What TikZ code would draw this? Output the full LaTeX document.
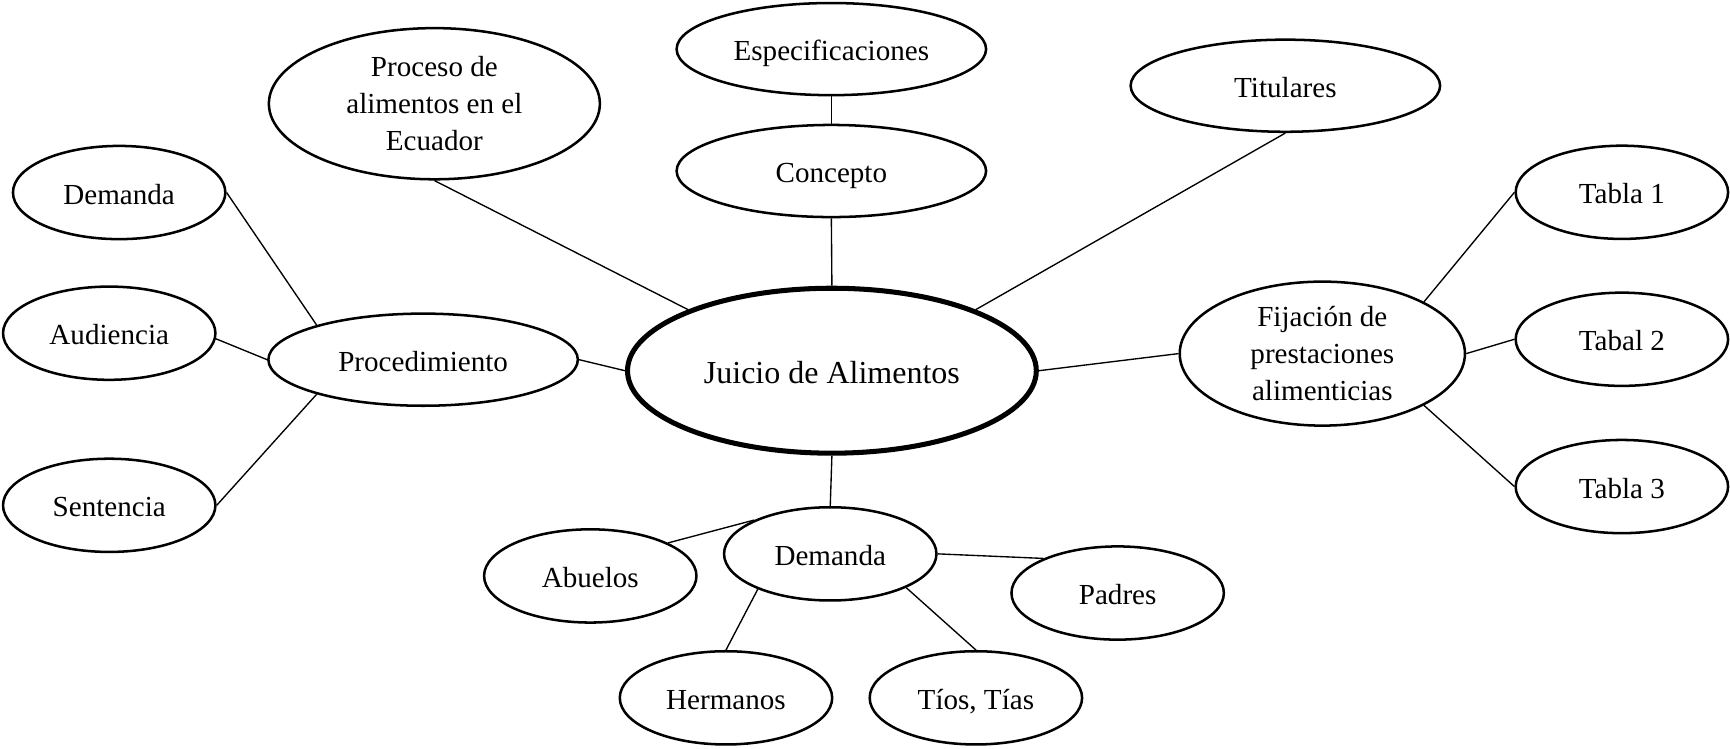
\documentclass[tikz,border=0pt]{standalone}
\usepackage{fontspec}
\setmainfont{Liberation Serif}
\usetikzlibrary{shapes.geometric}

\begin{document}
\begin{tikzpicture}[x=0.2mm,y=-0.2mm,line width=0.7pt,
  idea/.style={ellipse,draw,line width=1.3pt,inner sep=0pt,align=center,font=\fontsize{15}{19}\selectfont},
  hoja/.style={idea,text height=12pt,text depth=0pt,minimum width=38.5mm,minimum height=16.9mm},
  rama/.style={idea,text height=12pt,text depth=0pt,minimum width=56.1mm,minimum height=16.7mm},
  centro/.style={idea,line width=2.6pt,text height=13pt,text depth=0pt,minimum width=74.1mm,minimum height=29.9mm,font=\fontsize{16.5}{20}\selectfont}]

  \useasboundingbox (0,0) rectangle (1568,678);

  \node[centro] (juicio) at (754,336) {Juicio de Alimentos};
  \node[rama] (espec) at (753.5,44.5) {Especificaciones};
  \node[rama] (conc) at (753.5,155) {Concepto};
  \node[idea,minimum width=60mm,minimum height=27.4mm] (proceso) at (393.7,94) {Proceso de\\alimentos en el\\Ecuador};
  \node[rama] (titul) at (1165,77.7) {Titulares};

  \node[rama] (proc) at (383.5,326) {Procedimiento};
  \node[hoja] (dem1) at (108,174.5) {Demanda};
  \node[hoja] (aud) at (99,302) {Audiencia};
  \node[hoja] (sent) at (99,458) {Sentencia};

  \node[idea,minimum width=51.7mm,minimum height=26.1mm] (fija) at (1198.5,320.5) {Fijación de\\prestaciones\\alimenticias};
  \node[hoja] (tab1) at (1470,174.3) {Tabla 1};
  \node[hoja] (tab2) at (1470,307.5) {Tabal 2};
  \node[hoja] (tab3) at (1470,441) {Tabla 3};

  \node[hoja] (dem2) at (752.5,502) {Demanda};
  \node[hoja] (abue) at (535,522) {Abuelos};
  \node[hoja] (padr) at (1013,537.5) {Padres};
  \node[hoja] (herm) at (658,632.5) {Hermanos};
  \node[hoja] (tios) at (884.5,632.5) {Tíos, Tías};

  \path[draw]
    (espec.south) edge (conc.north)
    (conc.south) edge (juicio.north)
    (proceso.south) edge (juicio.157)
    (titul.south) edge (juicio.23)
    (proc.east) edge (juicio.west)
    (juicio.east) edge (fija.west)
    (juicio.south) edge (dem2.north);

  \path[draw]
    (dem1.east) edge (proc.162)
    (aud.-3) edge (proc.west)
    (sent.east) edge (proc.198)
    (fija.27) edge (tab1.west)
    (fija.east) edge (tab2.west)
    (fija.-27) edge (tab3.west);

  \path[draw]
    (dem2.156) edge (abue.23)
    (dem2.east) edge (padr.155)
    (dem2.206) edge (herm.north)
    (dem2.-24) edge (tios.north);
\end{tikzpicture}
\end{document}
